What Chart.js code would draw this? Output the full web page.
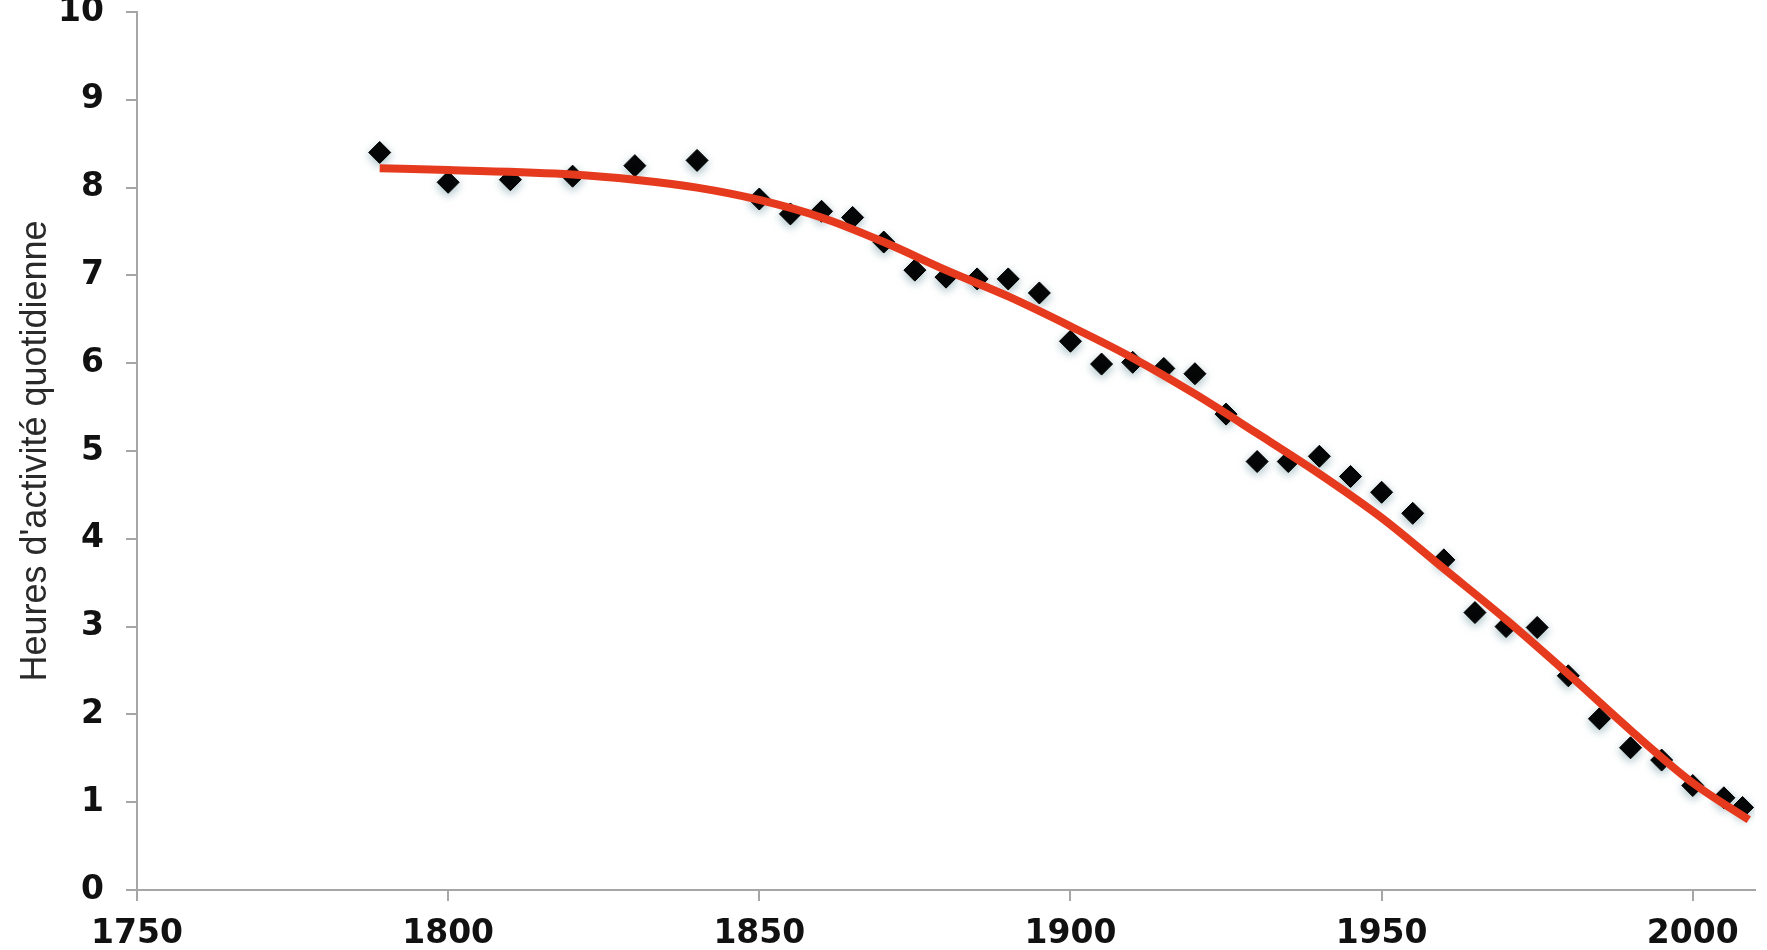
<!DOCTYPE html>
<html>
<head>
<meta charset="utf-8">
<script src="https://cdn.jsdelivr.net/npm/chart.js@4"></script>
<style>
  html, body { margin: 0; padding: 0; background: #ffffff; }
  canvas { display: block; }
</style>
</head>
<body>
<canvas id="c" width="1767" height="950"></canvas>
<script>
// Observed points (year, daily activity hours)
const obsYears = [1789, 1800, 1810, 1820, 1830, 1840, 1850, 1855, 1860, 1865, 1870, 1875, 1880, 1885, 1890, 1895,
  1900, 1905, 1910, 1915, 1920, 1925, 1930, 1935, 1940, 1945, 1950, 1955, 1960, 1965, 1970, 1975, 1980, 1985,
  1990, 1995, 2000, 2005, 2008];
const obsHours = [8.40, 8.06, 8.09, 8.13, 8.25, 8.31, 7.87, 7.70, 7.73, 7.66, 7.38, 7.06, 6.98, 6.96, 6.96, 6.80,
  6.25, 5.99, 6.01, 5.94, 5.88, 5.42, 4.88, 4.88, 4.94, 4.71, 4.53, 4.29, 3.76, 3.16, 3.00, 2.99, 2.44, 1.95,
  1.62, 1.48, 1.19, 1.05, 0.94];

// Red trend curve
const trendYears = [1789, 1800, 1820, 1830, 1840, 1850, 1860, 1870, 1880, 1890, 1900, 1910, 1920, 1930, 1940,
  1950, 1960, 1970, 1980, 1990, 2000, 2009];
const trendHours = [8.22, 8.20, 8.15, 8.09, 8.00, 7.86, 7.66, 7.38, 7.06, 6.76, 6.42, 6.06, 5.65, 5.20, 4.74,
  4.24, 3.66, 3.08, 2.46, 1.82, 1.22, 0.80];

// Axes
const xTicks = [1750, 1800, 1850, 1900, 1950, 2000];
const yTicks = [0, 1, 2, 3, 4, 5, 6, 7, 8, 9, 10];
const yTitle = "Heures d'activité quotidienne";

const toXY = (xs, ys) => xs.map((x, i) => ({ x: x, y: ys[i] }));

const haloPlugin = {
  id: 'halo',
  beforeDatasetDraw(chart, args) {
    if (args.index === 1) {
      const ctx = chart.ctx;
      ctx.save();
      ctx.shadowColor = 'rgba(110,150,160,0.6)';
      ctx.shadowBlur = 8;
      ctx.shadowOffsetX = 0;
      ctx.shadowOffsetY = 3;
    }
  },
  afterDatasetDraw(chart, args) {
    if (args.index === 1) chart.ctx.restore();
  }
};

const tickFont = { family: "'DejaVu Sans', Verdana, sans-serif", size: 33, weight: 'bold' };

new Chart(document.getElementById('c'), {
  type: 'scatter',
  data: {
    datasets: [
      {
        type: 'line',
        data: toXY(trendYears, trendHours),
        borderColor: '#e63a1e',
        borderWidth: 8,
        pointRadius: 0,
        fill: false,
        cubicInterpolationMode: 'monotone',
        order: 0
      },
      {
        type: 'scatter',
        data: toXY(obsYears, obsHours),
        pointStyle: 'rectRot',
        pointRadius: 11,
        backgroundColor: '#000000',
        borderColor: '#000000',
        borderWidth: 1,
        order: 1
      }
    ]
  },
  plugins: [haloPlugin],
  options: {
    responsive: false,
    animation: false,
    events: [],
    layout: { padding: { left: 0, right: 5, top: 12, bottom: 0 } },
    plugins: { legend: { display: false }, tooltip: { enabled: false } },
    scales: {
      x: {
        type: 'linear',
        min: 1750,
        max: 2010,
        afterBuildTicks(scale) { scale.ticks = xTicks.map(v => ({ value: v })); },
        afterFit(scale) { scale.height = 60; scale.paddingRight = 0; },
        ticks: { font: tickFont, color: '#111111', padding: 14, maxRotation: 0, autoSkip: false,
                 callback: (v) => String(v) },
        grid: { drawOnChartArea: false, drawTicks: true, tickLength: 11, color: '#a6a6a6', lineWidth: 2 },
        border: { color: '#a6a6a6', width: 2 }
      },
      y: {
        min: 0,
        max: 10,
        afterBuildTicks(scale) { scale.ticks = yTicks.map(v => ({ value: v })); },
        afterFit(scale) { scale.width = 137; scale.paddingTop = 0; scale.paddingBottom = 0; },
        ticks: { font: tickFont, color: '#111111', padding: 22, autoSkip: false,
                 callback: (v) => String(v) },
        grid: { drawOnChartArea: false, drawTicks: true, tickLength: 11, color: '#a6a6a6', lineWidth: 2 },
        border: { color: '#a6a6a6', width: 2 },
        title: {
          display: true,
          text: yTitle,
          color: '#2a2a2a',
          font: { family: "'Liberation Sans Narrow', 'Liberation Sans', Arial, sans-serif", size: 36, weight: 'normal' },
          padding: { top: 14, bottom: 0 }
        }
      }
    }
  }
});
</script>
</body>
</html>
